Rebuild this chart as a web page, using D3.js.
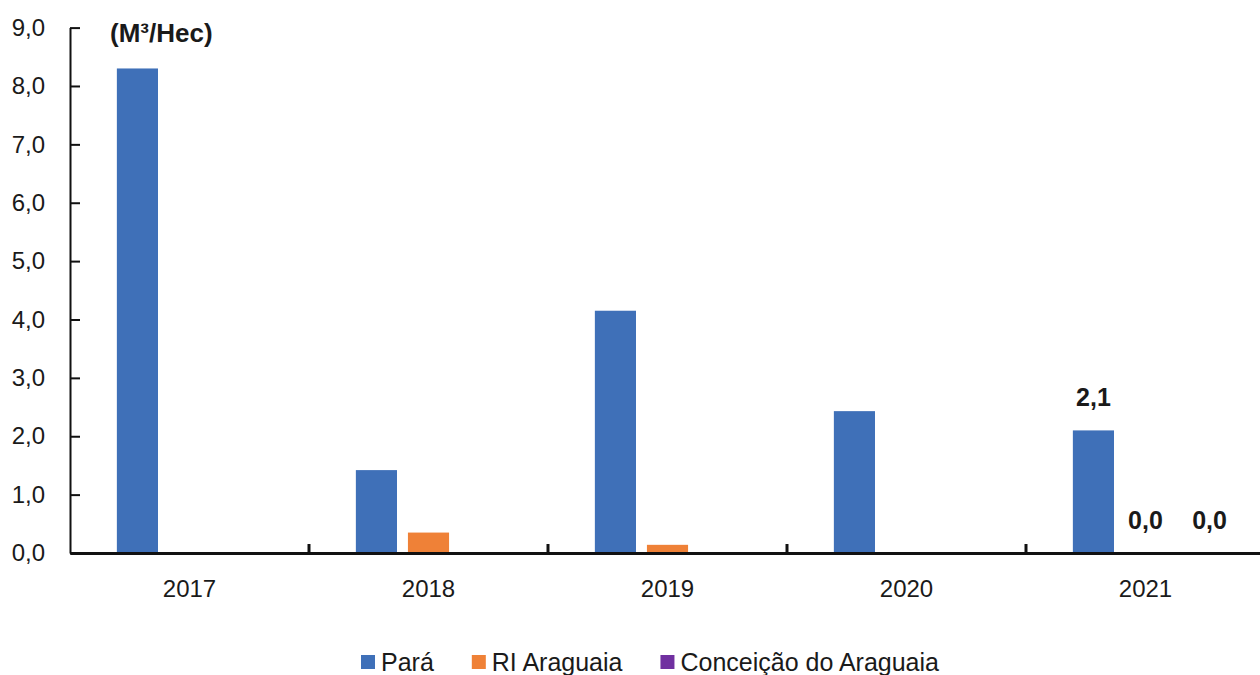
<!DOCTYPE html>
<html>
<head>
<meta charset="utf-8">
<script src="https://cdn.jsdelivr.net/npm/d3@7"></script>
<style>
  body { margin: 0; background: #fff; }
  text { font-family: Arial, "Liberation Sans", sans-serif; fill: #1a1a1a; }
</style>
</head>
<body>
<div class="chart"></div>
<script>
// chart values
const years = ["2017", "2018", "2019", "2020", "2021"];
const seriesNames = ["Pará", "RI Araguaia", "Conceição do Araguaia"];
const para = [8.3, 1.42, 4.15, 2.43, 2.1];
const riAraguaia = [0, 0.35, 0.14, 0, 0];
const conceicao = [0, 0, 0, 0, 0];
const yTicks = [0, 1, 2, 3, 4, 5, 6, 7, 8, 9];
const unitLabel = "(M³/Hec)";
const labelledYear = "2021";

const colors = ["#3f70b8", "#ef8137", "#7030a0"];
const seriesValues = [para, riAraguaia, conceicao];

const outerWidth = 1260, outerHeight = 675;
const plotLeft = 70, plotRight = 1265, plotTop = 27.6, plotBottom = 553;

const svg = d3.select(".chart").append("svg")
    .attr("width", outerWidth)
    .attr("height", outerHeight);

const x0 = d3.scaleBand().domain(years).range([plotLeft, plotRight]).padding(0);
const x1 = d3.scaleBand().domain(seriesNames).range([0, x0.bandwidth()])
    .paddingInner(0.21).paddingOuter(0.9);
const y = d3.scaleLinear().domain([0, 9]).range([plotBottom, plotTop]);

const fmt = v => d3.format(".1f")(v).replace(".", ",");

// bars
const rows = years.map((yr, i) => ({
    year: yr,
    values: seriesNames.map((s, j) => ({ series: s, value: seriesValues[j][i], color: colors[j] }))
}));

const groups = svg.append("g").selectAll("g")
    .data(rows)
    .join("g")
    .attr("transform", d => `translate(${x0(d.year)},0)`);

groups.selectAll("rect")
    .data(d => d.values)
    .join("rect")
    .attr("x", d => x1(d.series))
    .attr("y", d => y(d.value))
    .attr("width", x1.bandwidth())
    .attr("height", d => y(0) - y(d.value))
    .attr("fill", d => d.color);

// value labels on the last year
groups.filter(d => d.year === labelledYear)
    .selectAll("text.val")
    .data(d => d.values)
    .join("text")
    .attr("class", "val")
    .attr("x", (d, i) => x1(d.series) + x1.bandwidth() / 2 + (i === 2 ? 12 : 0))
    .attr("y", d => y(d.value) - 24)
    .attr("text-anchor", "middle")
    .style("font-size", "25px")
    .style("font-weight", "bold")
    .text(d => fmt(d.value));

// y axis
const yAxis = d3.axisLeft(y).tickValues(yTicks).tickSizeInner(-10).tickSizeOuter(0)
    .tickPadding(25).tickFormat(fmt);
const yg = svg.append("g").attr("transform", `translate(${plotLeft},0)`).call(yAxis);
yg.selectAll("text").style("font-size", "24px").attr("fill", "#1a1a1a");
yg.selectAll("line, path").attr("stroke", "#111").attr("stroke-width", 2);

// x axis
const xAxis = d3.axisBottom(x0).tickSize(0).tickPadding(27).tickSizeOuter(0);
const xg = svg.append("g").attr("transform", `translate(0,${plotBottom})`).call(xAxis);
xg.selectAll("text").style("font-size", "24px").attr("fill", "#1a1a1a");
xg.select("path.domain").attr("stroke", "#111").attr("stroke-width", 3);

// boundary ticks between categories
xg.selectAll("line.bound")
    .data(years.slice(1))
    .join("line")
    .attr("class", "bound")
    .attr("x1", d => x0(d)).attr("x2", d => x0(d))
    .attr("y1", 0).attr("y2", -9)
    .attr("stroke", "#111").attr("stroke-width", 3);

// unit label
svg.append("text")
    .attr("x", 110).attr("y", 42)
    .style("font-size", "26px")
    .style("font-weight", "bold")
    .text(unitLabel);

// legend
const legend = svg.append("g").attr("transform", "translate(361,662)");
let lx = 0;
seriesNames.forEach((name, i) => {
    const item = legend.append("g").attr("transform", `translate(${lx},0)`);
    item.append("rect").attr("x", 0).attr("y", -7).attr("width", 14).attr("height", 14)
        .attr("fill", colors[i]);
    const t = item.append("text").attr("x", 20).attr("y", 9)
        .style("font-size", "25px").text(name);
    lx += 20 + t.node().getComputedTextLength() + 38;
});
</script>
</body>
</html>
